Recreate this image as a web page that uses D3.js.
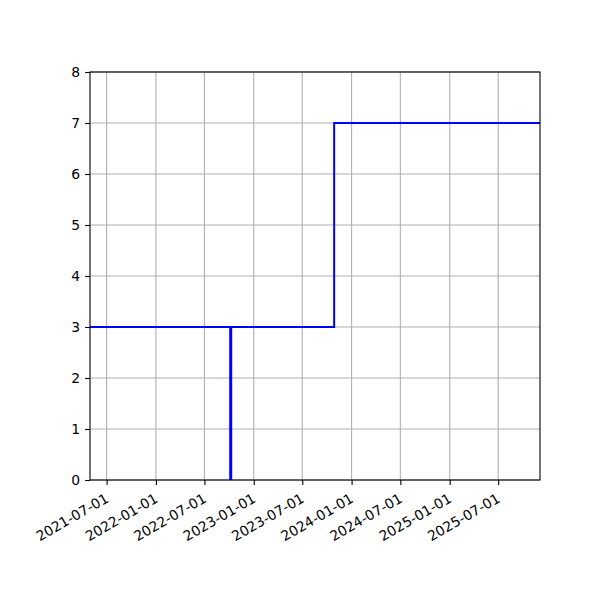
<!DOCTYPE html>
<html>
<head>
<meta charset="utf-8">
<script src="https://cdn.jsdelivr.net/npm/d3@7.9.0/dist/d3.min.js"></script>
<style>
  body { margin: 0; background: #fff; }
  svg text { font-family: "DejaVu Sans", sans-serif; }
</style>
</head>
<body>
<svg id="chart" width="600" height="600"></svg>
<script>
// step series (post style)
const stepDates = ["2021-04-30", "2023-10-28", "2025-12-04"];
const stepValues = [3, 7, 7];
// single vertical marker
const markerDate = "2022-10-07";
const markerRange = [0, 3];
const tickDates = ["2021-07-01", "2022-01-01", "2022-07-01", "2023-01-01", "2023-07-01",
                   "2024-01-01", "2024-07-01", "2025-01-01", "2025-07-01"];
const yTicks = [0, 1, 2, 3, 4, 5, 6, 7, 8];
const xDomain = ["2021-04-30", "2025-12-04"];

const parse = d3.utcParse("%Y-%m-%d");
const margin = { left: 90, right: 60, top: 72, bottom: 120 };
const W = 600, H = 600;
const iw = W - margin.left - margin.right, ih = H - margin.top - margin.bottom;

const svg = d3.select("#chart");
const g = svg.append("g").attr("transform", `translate(${margin.left},${margin.top})`);

const x = d3.scaleUtc().domain(xDomain.map(parse)).range([0, iw]);
const y = d3.scaleLinear().domain([0, 8]).range([ih, 0]);

// grid
g.append("g").selectAll("line").data(tickDates).enter().append("line")
  .attr("x1", d => x(parse(d))).attr("x2", d => x(parse(d)))
  .attr("y1", 0).attr("y2", ih)
  .attr("stroke", "#b0b0b0").attr("stroke-width", 1.1);
g.append("g").selectAll("line").data(yTicks).enter().append("line")
  .attr("x1", 0).attr("x2", iw)
  .attr("y1", d => y(d)).attr("y2", d => y(d))
  .attr("stroke", "#b0b0b0").attr("stroke-width", 1.1);

g.append("defs").append("clipPath").attr("id", "clip")
  .append("rect").attr("width", iw).attr("height", ih);

const stepData = stepDates.map((d, i) => ({ date: parse(d), value: stepValues[i] }));
const line = d3.line().curve(d3.curveStepAfter)
  .x(d => x(d.date)).y(d => y(d.value));

g.append("path").datum(stepData)
  .attr("clip-path", "url(#clip)")
  .attr("d", line)
  .attr("fill", "none").attr("stroke", "#0000ff").attr("stroke-width", 2);

g.append("line")
  .attr("x1", x(parse(markerDate))).attr("x2", x(parse(markerDate)))
  .attr("y1", y(markerRange[0])).attr("y2", y(markerRange[1]))
  .attr("stroke", "#0000ff").attr("stroke-width", 3);

// axes
const xAxis = g.append("g").attr("transform", `translate(0,${ih})`)
  .call(d3.axisBottom(x).tickValues(tickDates.map(parse))
    .tickFormat(d3.utcFormat("%Y-%m-%d")).tickSizeInner(4.9).tickSizeOuter(0).tickPadding(4.9));
xAxis.select(".domain").remove();
xAxis.selectAll("line").attr("stroke", "#000").attr("stroke-width", 1.1);
xAxis.selectAll("text")
  .attr("font-size", "13.9px").attr("fill", "#000")
  .attr("text-anchor", "end")
  .attr("dy", "0.35em").attr("y", 0)
  .attr("transform", "translate(0,17) rotate(-30)");

const yAxis = g.append("g")
  .call(d3.axisLeft(y).tickValues(yTicks).tickSizeInner(4.9).tickSizeOuter(0).tickPadding(4.9));
yAxis.select(".domain").remove();
yAxis.selectAll("line").attr("stroke", "#000").attr("stroke-width", 1.1);
yAxis.selectAll("text").attr("font-size", "13.9px").attr("fill", "#000");

// frame
g.append("rect").attr("width", iw).attr("height", ih)
  .attr("fill", "none").attr("stroke", "#000").attr("stroke-width", 1.1);
</script>
</body>
</html>
